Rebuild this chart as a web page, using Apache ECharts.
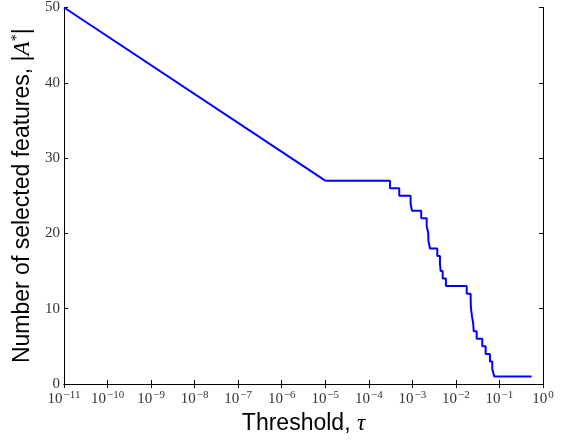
<!DOCTYPE html>
<html>
<head>
<meta charset="utf-8">
<script src="https://cdn.jsdelivr.net/npm/echarts@6/dist/echarts.min.js"></script>
<style>html,body{margin:0;padding:0;background:#fff;}#c{width:567px;height:440px;}</style>
</head>
<body>
<div id="c"></div>
<script>
// Linear segment (drawn as a straight line on the log axis)
const diagTau = [1e-11, 1e-5];
const diagCount = [50, 27];
// Step region: value holds from this threshold until the next one
const stepTau = [1e-5, 3.06e-4, 5.0e-4, 9.1e-4, 9.8e-4, 1.60e-3, 2.13e-3, 2.32e-3, 2.34e-3, 2.54e-3,
  3.73e-3, 4.30e-3, 4.46e-3, 4.97e-3, 5.90e-3, 1.77e-2, 2.18e-2, 2.22e-2, 2.34e-2, 2.50e-2,
  2.56e-2, 3.0e-2, 4.03e-2, 4.82e-2, 6.05e-2, 6.84e-2, 7.6e-2, 0.548];
const stepCount = [27, 26, 25, 24, 23, 22, 21, 20, 19, 18,
  17, 16, 15, 14, 13, 12, 11, 10, 9, 8,
  7, 6, 5, 4, 3, 2, 1, 1];
const yTicks = [0, 10, 20, 30, 40, 50];
const xMin = 1e-11, xMax = 1;

const chart = echarts.init(document.getElementById('c'), null, {renderer: 'canvas'});
const serif = "'Liberation Serif', 'DejaVu Serif', serif";
const sans = "'Liberation Sans', Arial, sans-serif";
const axisLine = {show: true, lineStyle: {color: '#000', width: 1}};
const tick = {show: true, inside: true, length: 4, lineStyle: {color: '#000', width: 1}};

function expLabel(v) {
  const e = Math.round(Math.log10(v));
  return '{b|10}{s|' + (e < 0 ? '\u2212' + (-e) : e) + '}';
}

chart.setOption({
  animation: false,
  backgroundColor: '#fff',
  grid: {left: 64, right: 24, top: 6, bottom: 49, containLabel: false},
  xAxis: [{
    type: 'log', logBase: 10, min: xMin, max: xMax, interval: 1,
    position: 'bottom',
    axisLine: axisLine, axisTick: tick, splitLine: {show: false}, minorTick: {show: false},
    axisLabel: {
      interval: 0, margin: 6, showMinLabel: true, showMaxLabel: true,
      formatter: expLabel,
      rich: {
        b: {fontFamily: serif, fontSize: 15, color: '#333'},
        s: {fontFamily: serif, fontSize: 11, color: '#333', padding: [0, 0, 8, 1]}
      }
    },
    name: 'Threshold, {t|\u03c4}',
    nameLocation: 'middle', nameGap: 28,
    nameTextStyle: {
      fontFamily: sans, fontSize: 23, color: '#000',
      rich: {t: {fontFamily: serif, fontStyle: 'italic', fontSize: 23, color: '#000'}}
    }
  }, {
    type: 'log', logBase: 10, min: xMin, max: xMax, interval: 1,
    position: 'top',
    axisLine: axisLine, axisTick: tick, splitLine: {show: false}, axisLabel: {show: false}
  }],
  yAxis: [{
    type: 'value', min: yTicks[0], max: yTicks[yTicks.length - 1], interval: 10,
    position: 'left',
    axisLine: axisLine, axisTick: tick, splitLine: {show: false},
    axisLabel: {margin: 4, fontFamily: serif, fontSize: 15, color: '#333'},
    name: 'Number of selected features, |{a|A}{s|*}|',
    nameLocation: 'middle', nameRotate: 90, nameGap: 29,
    nameTextStyle: {
      fontFamily: sans, fontSize: 23, color: '#000',
      rich: {
        a: {fontFamily: serif, fontStyle: 'italic', fontSize: 23, color: '#000'},
        s: {fontFamily: serif, fontSize: 14, color: '#000', padding: [0, 0, 10, 0]}
      }
    }
  }, {
    type: 'value', min: yTicks[0], max: yTicks[yTicks.length - 1], interval: 10,
    position: 'right',
    axisLine: axisLine, axisTick: tick, splitLine: {show: false}, axisLabel: {show: false}
  }],
  series: [{
    type: 'line', xAxisIndex: 0, yAxisIndex: 0,
    data: diagTau.map((t, i) => [t, diagCount[i]]),
    showSymbol: false, symbol: 'none',
    lineStyle: {color: '#0000ff', width: 2}
  }, {
    type: 'line', xAxisIndex: 0, yAxisIndex: 0, step: 'end',
    data: stepTau.map((t, i) => [t, stepCount[i]]),
    showSymbol: false, symbol: 'none',
    lineStyle: {color: '#0000ff', width: 2}
  }]
});
</script>
</body>
</html>
